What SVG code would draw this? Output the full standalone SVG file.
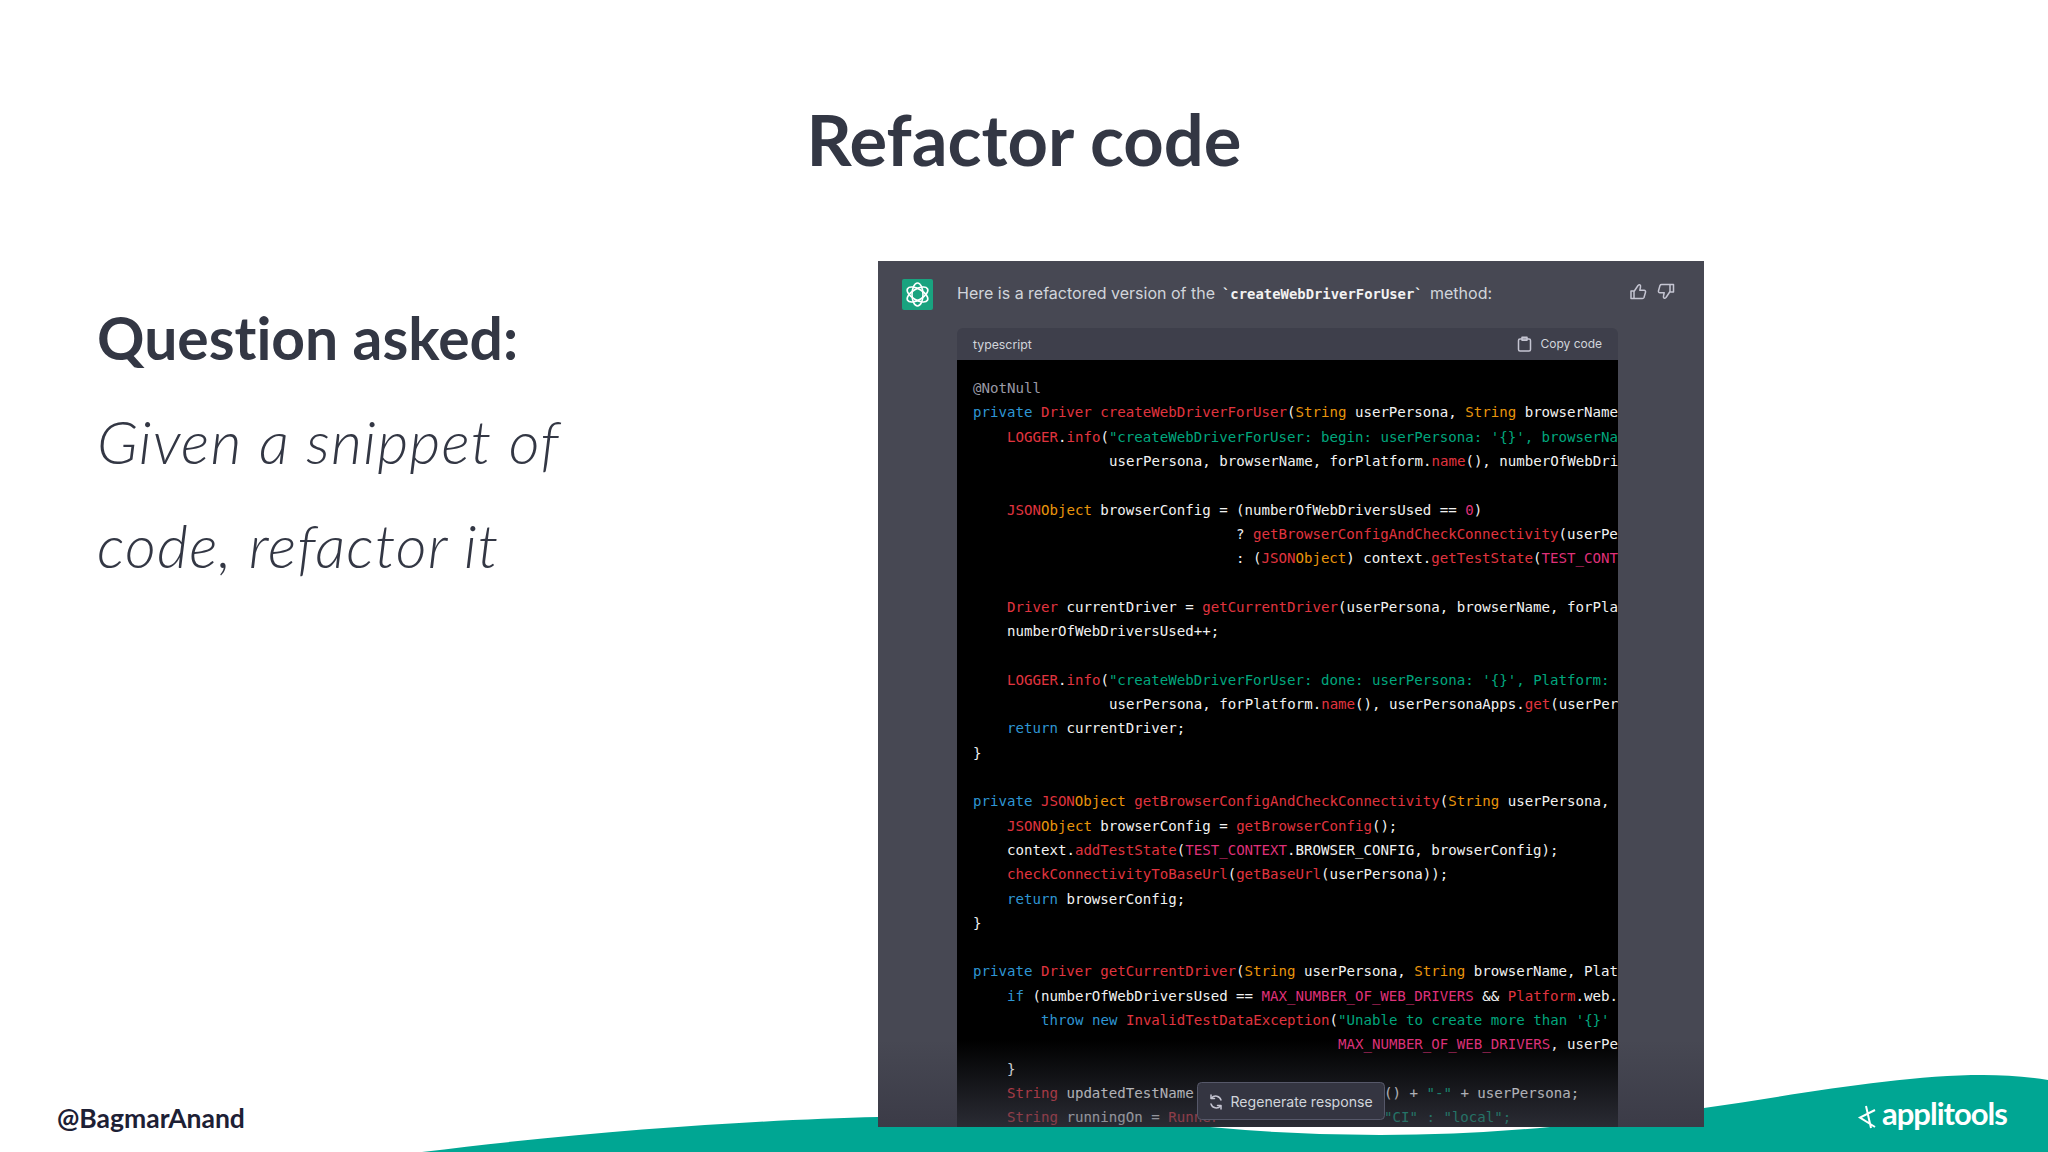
<svg xmlns="http://www.w3.org/2000/svg" width="2048" height="1152" viewBox="0 0 2048 1152">
<style>
text{font-variant-ligatures:none}
.title{font-family:Lato,"Noto Sans",sans-serif;font-weight:700;fill:#333744}
.q{font-family:Lato,"Noto Sans",sans-serif;font-style:italic;font-weight:300;fill:#333744;font-size:60px;letter-spacing:1.2px}
.c{font-family:"DejaVu Sans Mono","Liberation Mono",monospace;font-size:14.1px;fill:#f2f2f2;white-space:pre}
.k{fill:#2e95d3}.r{fill:#e0343f}.p{fill:#df3079}.o{fill:#e9950c}.g{fill:#00a67d}.m{fill:#9a9aa6}
.ui{font-family:Inter,"Noto Sans",sans-serif;fill:#d1d5db}
.ic{fill:none;stroke:#c5c5d2;stroke-width:1.5;stroke-linejoin:round;stroke-linecap:round}
</style>
<defs>
<clipPath id="codeClip"><rect x="957" y="360" width="661" height="767"/></clipPath>
<linearGradient id="fade" x1="0" y1="0" x2="0" y2="1"><stop offset="0" stop-color="#444654" stop-opacity="0"/><stop offset="1" stop-color="#444654" stop-opacity="0.62"/></linearGradient>
<linearGradient id="side" x1="0" y1="0" x2="0" y2="1"><stop offset="0" stop-color="#3b3b47" stop-opacity="0"/><stop offset="1" stop-color="#3b3b47" stop-opacity="1"/></linearGradient>
</defs>
<rect width="2048" height="1152" fill="#fff"/>
<g id="wave">
<path d="M422 1152C600 1130 760 1120 878 1117L1704 1108C1800 1094 1900 1075 1983 1075C2005 1075 2030 1077 2048 1080V1152Z" fill="#00a693"/>
<path d="M1210 1127Q1380 1143 1550 1127Z" fill="#fff"/>
</g>
<text class="title" x="1024" y="166" font-size="70.5" text-anchor="middle">Refactor code</text>
<g id="question">
<text class="title" x="97" y="360" font-size="58.8">Question asked:</text>
<text class="q" x="97" y="464">Given a snippet of</text>
<text class="q" x="97" y="568">code, refactor it</text>
</g>
<text class="title" x="57" y="1128" font-size="26.5" style="fill:#1d2035">@BagmarAnand</text>
<g id="panel">
<rect x="878" y="261" width="826" height="866" fill="#474853"/>
<rect x="878" y="1040" width="826" height="87" fill="url(#side)"/>
<g id="avatar">
<rect x="902" y="279" width="31" height="31" rx="2" fill="#19a37f"/>
<g fill="none" stroke="#fff" stroke-width="1.6">
<ellipse cx="917.5" cy="294.5" rx="5.5" ry="11.5"/>
<ellipse cx="917.5" cy="294.5" rx="5.5" ry="11.5" transform="rotate(60 917.5 294.5)"/>
<ellipse cx="917.5" cy="294.5" rx="5.5" ry="11.5" transform="rotate(120 917.5 294.5)"/>
</g>
</g>
<text class="ui" x="957" y="299" font-size="16">Here is a refactored version of the</text>
<text x="1222" y="299" font-family="DejaVu Sans Mono,monospace" font-weight="700" font-size="13.9" fill="#f2f2f2" style="white-space:pre">`createWebDriverForUser`</text>
<text class="ui" x="1430" y="299" font-size="16">method:</text>
<g id="thumbs" class="ic">
<path d="M1634 291V298.5H1631V291ZM1634 291.5L1638 285.5C1639.5 284 1641 285 1640.5 287L1639.8 290.3H1644C1645.3 290.3 1645.8 291.3 1645.5 292.3L1644 297.5C1643.7 298.3 1643 298.5 1642.3 298.5H1634"/>
<path d="M1670 292V284.5H1673.5V292ZM1670 291.5L1666 297.5C1664.5 299 1663 298 1663.5 296L1664.2 292.7H1660C1658.7 292.7 1658.2 291.7 1658.5 290.7L1660 285.5C1660.3 284.7 1661 284.5 1661.7 284.5H1670"/>
</g>
<path d="M957 360V334a6 6 0 0 1 6-6H1612a6 6 0 0 1 6 6V360Z" fill="#3e3f4b"/>
<text class="ui" x="973" y="349" font-size="12.3">typescript</text>
<g class="ic"><rect x="1518.5" y="339" width="12" height="12" rx="1.5"/><rect x="1522" y="337.3" width="5" height="3"/></g>
<text class="ui" x="1540.5" y="348" font-size="12">Copy code</text>
<rect x="957" y="360" width="661" height="767" fill="#000"/>
<g id="code" clip-path="url(#codeClip)">
<text class="c m" x="973" y="393">@NotNull</text>
<text class="c" x="973" y="417.3"><tspan class="k">private</tspan> <tspan class="r">Driver</tspan> <tspan class="r">createWebDriverForUser</tspan>(<tspan class="o">String</tspan> userPersona, <tspan class="o">String</tspan> browserName, Platform</text>
<text class="c" x="1007" y="441.6"><tspan class="r">LOGGER</tspan>.<tspan class="r">info</tspan>(<tspan class="g">"createWebDriverForUser: begin: userPersona: '{}', browserName</tspan></text>
<text class="c" x="1109" y="465.9">userPersona, browserName, forPlatform.<tspan class="r">name</tspan>(), numberOfWebDrivers</text>
<text class="c" x="1007" y="514.6"><tspan class="r">JSON</tspan><tspan class="o">Object</tspan> browserConfig = (numberOfWebDriversUsed == <tspan class="p">0</tspan>)</text>
<text class="c" x="1236" y="538.9">? <tspan class="r">getBrowserConfigAndCheckConnectivity</tspan>(userPersona</text>
<text class="c" x="1236" y="563.2">: (<tspan class="r">JSON</tspan><tspan class="o">Object</tspan>) context.<tspan class="r">getTestState</tspan>(<tspan class="p">TEST_CONTEXT</tspan></text>
<text class="c" x="1007" y="611.8"><tspan class="r">Driver</tspan> currentDriver = <tspan class="r">getCurrentDriver</tspan>(userPersona, browserName, forPlatform</text>
<text class="c" x="1007" y="636.1">numberOfWebDriversUsed++;</text>
<text class="c" x="1007" y="684.7"><tspan class="r">LOGGER</tspan>.<tspan class="r">info</tspan>(<tspan class="g">"createWebDriverForUser: done: userPersona: '{}', Platform: </tspan></text>
<text class="c" x="1109" y="709">userPersona, forPlatform.<tspan class="r">name</tspan>(), userPersonaApps.<tspan class="r">get</tspan>(userPersona</text>
<text class="c" x="1007" y="733.3"><tspan class="k">return</tspan> currentDriver;</text>
<text class="c" x="973" y="757.7">}</text>
<text class="c" x="973" y="806.3"><tspan class="k">private</tspan> <tspan class="r">JSON</tspan><tspan class="o">Object</tspan> <tspan class="r">getBrowserConfigAndCheckConnectivity</tspan>(<tspan class="o">String</tspan> userPersona,</text>
<text class="c" x="1007" y="830.6"><tspan class="r">JSON</tspan><tspan class="o">Object</tspan> browserConfig = <tspan class="r">getBrowserConfig</tspan>();</text>
<text class="c" x="1007" y="854.9">context.<tspan class="r">addTestState</tspan>(<tspan class="p">TEST_CONTEXT</tspan>.BROWSER_CONFIG, browserConfig);</text>
<text class="c" x="1007" y="879.2"><tspan class="r">checkConnectivityToBaseUrl</tspan>(<tspan class="r">getBaseUrl</tspan>(userPersona));</text>
<text class="c" x="1007" y="903.5"><tspan class="k">return</tspan> browserConfig;</text>
<text class="c" x="973" y="927.8">}</text>
<text class="c" x="973" y="976.4"><tspan class="k">private</tspan> <tspan class="r">Driver</tspan> <tspan class="r">getCurrentDriver</tspan>(<tspan class="o">String</tspan> userPersona, <tspan class="o">String</tspan> browserName, Platform</text>
<text class="c" x="1007" y="1000.8"><tspan class="k">if</tspan> (numberOfWebDriversUsed == <tspan class="p">MAX_NUMBER_OF_WEB_DRIVERS</tspan> &amp;&amp; <tspan class="r">Platform</tspan>.web.</text>
<text class="c" x="1041" y="1025.1"><tspan class="k">throw</tspan> <tspan class="k">new</tspan> <tspan class="r">InvalidTestDataException</tspan>(<tspan class="g">"Unable to create more than '{}'</tspan></text>
<text class="c" x="1338" y="1049.4"><tspan class="p">MAX_NUMBER_OF_WEB_DRIVERS</tspan>, userPersona</text>
<text class="c" x="1007" y="1073.7">}</text>
<text class="c" x="1007" y="1098"><tspan class="r">String</tspan> updatedTestName</text>
<text class="c" x="1384" y="1098">() + <tspan class="g">"-"</tspan> + userPersona;</text>
<text class="c" x="1007" y="1122.3"><tspan class="r">String</tspan> runningOn = <tspan class="r">Runner</tspan></text>
<text class="c g" x="1384" y="1122.3">"CI" : "local";</text>
</g>
<rect x="957" y="1040" width="661" height="87" fill="url(#fade)"/>
</g>
<g id="regenerate">
<rect x="1197.5" y="1082.5" width="187" height="37" rx="4" fill="#343541" stroke="#565869"/>
<g class="ic" stroke-width="1.2"><path d="M1221 1100A5.5 5.5 0 0 0 1211.5 1098M1211 1104A5.5 5.5 0 0 0 1220.5 1106"/><path d="M1211 1095V1098.5H1214.5M1221 1109V1105.5H1217.5"/></g>
<text class="ui" x="1230.5" y="1107" font-size="14.1">Regenerate response</text>
</g>
<g id="logo">
<path d="M1875 1110L1860 1117.5L1875 1127M1866 1106L1871 1128" fill="none" stroke="#fff" stroke-width="2"/>
<text x="1882" y="1125" font-family="Lato,sans-serif" font-weight="700" font-size="31" fill="#fff" letter-spacing="-1">applitools</text>
</g>
</svg>
